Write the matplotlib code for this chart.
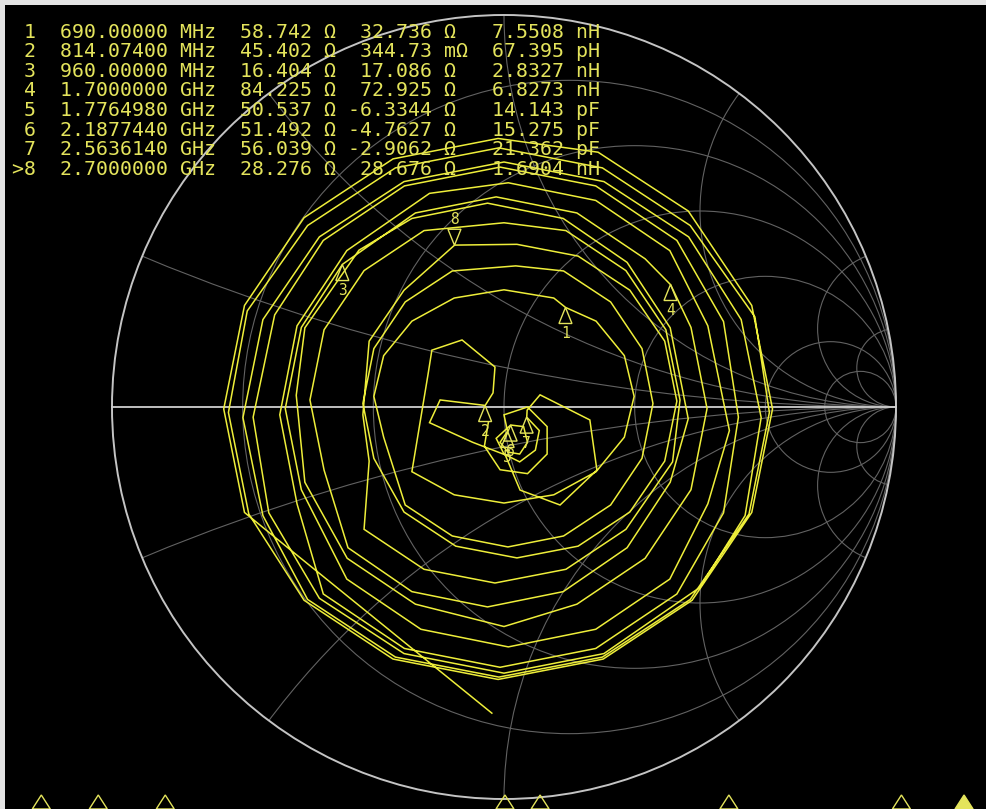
import numpy as np
import matplotlib.pyplot as plt
from matplotlib.patches import Circle, Polygon, Rectangle

# ---- marker table (as shown on the analyzer) ----
mk_ids = ['1', '2', '3', '4', '5', '6', '7', '>8']
mk_freq_txt = ['690.00000', '814.07400', '960.00000', '1.7000000',
               '1.7764980', '2.1877440', '2.5636140', '2.7000000']
mk_freq_unit = ['MHz', 'MHz', 'MHz', 'GHz', 'GHz', 'GHz', 'GHz', 'GHz']
mk_freq_mhz = [690.0, 814.074, 960.0, 1700.0, 1776.498, 2187.744, 2563.614, 2700.0]
mk_r = [58.742, 45.402, 16.404, 84.225, 50.537, 51.492, 56.039, 28.276]
mk_x = [32.736, 0.34473, 17.086, 72.925, -6.3344, -4.7627, -2.9062, 28.676]
mk_x_txt = ['32.736', '344.73', '17.086', '72.925', '-6.3344', '-4.7627', '-2.9062', '28.676']
mk_x_unit = ['Ω', 'mΩ', 'Ω', 'Ω', 'Ω', 'Ω', 'Ω', 'Ω']
mk_lc_txt = ['7.5508', '67.395', '2.8327', '6.8273', '14.143', '15.275', '21.362', '1.6904']
mk_lc_unit = ['nH', 'pH', 'nH', 'nH', 'pF', 'pF', 'pF', 'nH']
active_marker = 7

f_start, f_stop = 600.0, 2750.0
z0 = 50.0

trace_re = [
    -0.031, -0.554,
    -0.662, -0.715, -0.662, -0.510, -0.283, -0.015, 0.240, 0.470, 0.632, 0.685, 0.632, 0.480, 0.253, -0.015, -0.283, -0.510,
    -0.651, -0.703, -0.655, -0.501, -0.277, -0.013, 0.251, 0.475, 0.640, 0.677, 0.625, 0.475, 0.251, -0.013, -0.277, -0.501,
    -0.615, -0.666, -0.615, -0.471, -0.255, 0.000, 0.255, 0.471, 0.605, 0.656, 0.615, 0.500, 0.255, 0.000, -0.255, -0.471,
    -0.600, -0.640, -0.585, -0.461, -0.254, -0.010, 0.234, 0.441, 0.560, 0.598, 0.560, 0.441, 0.234, -0.010, -0.254, -0.461,
    -0.528, -0.572, -0.528, -0.401, -0.190, 0.011, 0.234, 0.423, 0.520, 0.575, 0.520, 0.423, 0.234, 0.011, -0.212, -0.401,
    -0.517, -0.558, -0.517, -0.412, -0.226, -0.020, 0.186, 0.360, 0.425, 0.477, 0.518, 0.477, 0.360, 0.186, 0.000, -0.226, -0.400,
    -0.508, -0.530, -0.508, -0.370, -0.235, -0.042, 0.151, 0.314, 0.424, 0.470, 0.424, 0.314, 0.151, -0.042, -0.235, -0.398,
    -0.459, -0.495, -0.459, -0.357, -0.204, 0.000, 0.158, 0.311, 0.413, 0.449, 0.430, 0.311, 0.158, -0.023, -0.204, -0.357,
    -0.344, -0.360, -0.344, -0.255, -0.126, 0.033, 0.189, 0.321, 0.410, 0.441, 0.410, 0.321, 0.189, 0.033, -0.123, -0.255,
    -0.332, -0.360, -0.332, -0.252, -0.132, 0.030, 0.152, 0.272, 0.352, 0.380, 0.352, 0.272, 0.152, 0.010, -0.132, -0.252,
    -0.307, -0.332, -0.307, -0.235, -0.127, 0.000, 0.127, 0.157, 0.235, 0.307, 0.332, 0.307, 0.235, 0.127, 0.000, -0.127, -0.235,
    -0.194, -0.184, -0.107, -0.023, -0.028, -0.048, -0.163, -0.190,
    -0.080, 0.003, 0.041, 0.143, 0.237, 0.219, 0.092, 0.059,
    0.058, 0.090, 0.080, 0.040, 0.000, -0.020, 0.017, 0.050, 0.060, 0.040, 0.010, -0.010, 0.009,
    0.000, 0.060, 0.110, 0.110, 0.060, -0.010, -0.050, -0.040,
]
trace_im = [
    -0.781, -0.357,
    -0.269, -0.005, 0.259, 0.483, 0.633, 0.685, 0.650, 0.500, 0.259, -0.005, -0.269, -0.493, -0.643, -0.695, -0.643, -0.493,
    -0.273, -0.014, 0.245, 0.463, 0.610, 0.661, 0.610, 0.463, 0.230, -0.014, -0.273, -0.491, -0.638, -0.689, -0.638, -0.491,
    -0.277, -0.027, 0.223, 0.434, 0.575, 0.625, 0.575, 0.434, 0.223, -0.027, -0.277, -0.460, -0.629, -0.679, -0.629, -0.488,
    -0.270, -0.026, 0.235, 0.425, 0.564, 0.612, 0.564, 0.425, 0.218, -0.026, -0.270, -0.477, -0.616, -0.664, -0.616, -0.477,
    -0.247, -0.020, 0.207, 0.399, 0.545, 0.572, 0.527, 0.399, 0.207, -0.060, -0.247, -0.439, -0.567, -0.612, -0.567, -0.439,
    -0.211, -0.004, 0.203, 0.364, 0.495, 0.536, 0.495, 0.378, 0.312, 0.203, -0.004, -0.211, -0.386, -0.503, -0.560, -0.503, -0.386,
    -0.192, 0.030, 0.202, 0.400, 0.481, 0.520, 0.481, 0.369, 0.202, -0.030, -0.192, -0.359, -0.471, -0.510, -0.471, -0.359,
    -0.161, 0.018, 0.197, 0.348, 0.450, 0.470, 0.450, 0.348, 0.197, 0.018, -0.140, -0.312, -0.414, -0.449, -0.414, -0.312,
    -0.138, -0.020, 0.168, 0.298, 0.413, 0.415, 0.385, 0.298, 0.168, 0.015, -0.138, -0.268, -0.355, -0.385, -0.355, -0.268,
    -0.131, 0.009, 0.149, 0.268, 0.347, 0.360, 0.347, 0.268, 0.149, 0.009, -0.131, -0.250, -0.329, -0.357, -0.329, -0.250,
    -0.077, 0.027, 0.131, 0.219, 0.278, 0.299, 0.278, 0.254, 0.219, 0.131, 0.027, -0.077, -0.165, -0.224, -0.245, -0.224, -0.165,
    0.082, 0.145, 0.171, 0.102, 0.036, 0.004, 0.018, -0.040,
    -0.090, -0.122, -0.212, -0.250, -0.161, -0.033, 0.031, -0.008,
    -0.026, -0.060, -0.110, -0.140, -0.120, -0.080, -0.046, -0.050, -0.090, -0.120, -0.115, -0.090, -0.062,
    -0.020, 0.000, -0.050, -0.120, -0.170, -0.160, -0.100, -0.040,
]

r_grid = [0.2, 0.5, 1.0, 2.0, 5.0, 10.0]
x_grid = [0.2, 0.5, 1.0, 2.0, 5.0, 10.0]

# ---- layout ----
W, H = 987, 809
cx_px, cy_px, R_px = 504, 407, 392
bg = 'black'
grid_col = '#626262'
edge_col = '#c4c4c4'
trace_col = '#eeee3a'
text_col = '#e4e45c'

fig = plt.figure(figsize=(W / 100, H / 100), dpi=100, facecolor=bg)
ax = fig.add_axes([0, 0, 1, 1])
ax.set_facecolor(bg)
ax.set_xlim(-cx_px / R_px, (W - cx_px) / R_px)
ax.set_ylim((cy_px - H) / R_px, cy_px / R_px)
ax.axis('off')

# Smith grid
unit = Circle((0, 0), 1.0, transform=ax.transData, fill=False, lw=0)
ax.add_patch(unit)
for r in r_grid:
    ax.add_patch(Circle((r / (1 + r), 0), 1 / (1 + r), fill=False,
                        ec=grid_col, lw=0.8, zorder=1))
for x in x_grid:
    for s in (1, -1):
        c = Circle((1, s / x), 1 / x, fill=False, ec=grid_col, lw=0.8, zorder=1)
        ax.add_patch(c)
        c.set_clip_path(unit)
ax.add_patch(Circle((0, 0), 1.0, fill=False, ec=edge_col, lw=1.4, zorder=2))
ax.plot([-1, 1], [0, 0], color='#cfcfcf', lw=1.3, zorder=2)

# trace
ax.plot(trace_re, trace_im, color=trace_col, lw=1.1, zorder=3, solid_joinstyle='miter')

# markers on the chart
z = (np.array(mk_r) + 1j * np.array(mk_x)) / z0
gam = (z - 1) / (z + 1)
th, hw = 16 / R_px, 6.5 / R_px
for i, g in enumerate(gam):
    gx, gy = g.real, g.imag
    lab = mk_ids[i].lstrip('>')
    if i == active_marker:
        tri = [(gx, gy), (gx - hw, gy + th), (gx + hw, gy + th)]
        ty = gy + th + 10 / R_px
    else:
        tri = [(gx, gy), (gx - hw, gy - th), (gx + hw, gy - th)]
        ty = gy - th - 10 / R_px
    ax.add_patch(Polygon(tri, closed=True, fill=False, ec=text_col, lw=1.0, zorder=4))
    ax.text(gx, ty, lab, color=text_col, fontsize=10.5, family='DejaVu Sans Mono',
            ha='center', va='center', zorder=4)

# pixel overlay for table, border and sweep markers
axp = fig.add_axes([0, 0, 1, 1])
axp.set_xlim(0, W)
axp.set_ylim(H, 0)
axp.axis('off')
axp.patch.set_visible(False)

axp.add_patch(Rectangle((0, 0), W, 5, color='#e4e4e4', lw=0))
axp.add_patch(Rectangle((0, 0), 5, H, color='#e4e4e4', lw=0))

for i in range(len(mk_ids)):
    row = (f"{mk_ids[i]:>3}  {mk_freq_txt[i]} {mk_freq_unit[i]}  {mk_r[i]:.3f} Ω "
           f"{mk_x_txt[i]:>7} {mk_x_unit[i]:<2}  {mk_lc_txt[i]:>6} {mk_lc_unit[i]}")
    axp.text(0, 32 + 19.6 * i, row, color=text_col, fontsize=14.35,
             family='DejaVu Sans Mono', ha='left', va='center', zorder=5)

for i, f in enumerate(mk_freq_mhz):
    xp = (f - f_start) / (f_stop - f_start) * W
    filled = i == active_marker
    axp.add_patch(Polygon([(xp, 795), (xp - 9, 809), (xp + 9, 809)], closed=True,
                          fill=filled, fc=text_col, ec=text_col, lw=1.0, zorder=5))

fig.savefig('out.png', dpi=100, facecolor=bg)
